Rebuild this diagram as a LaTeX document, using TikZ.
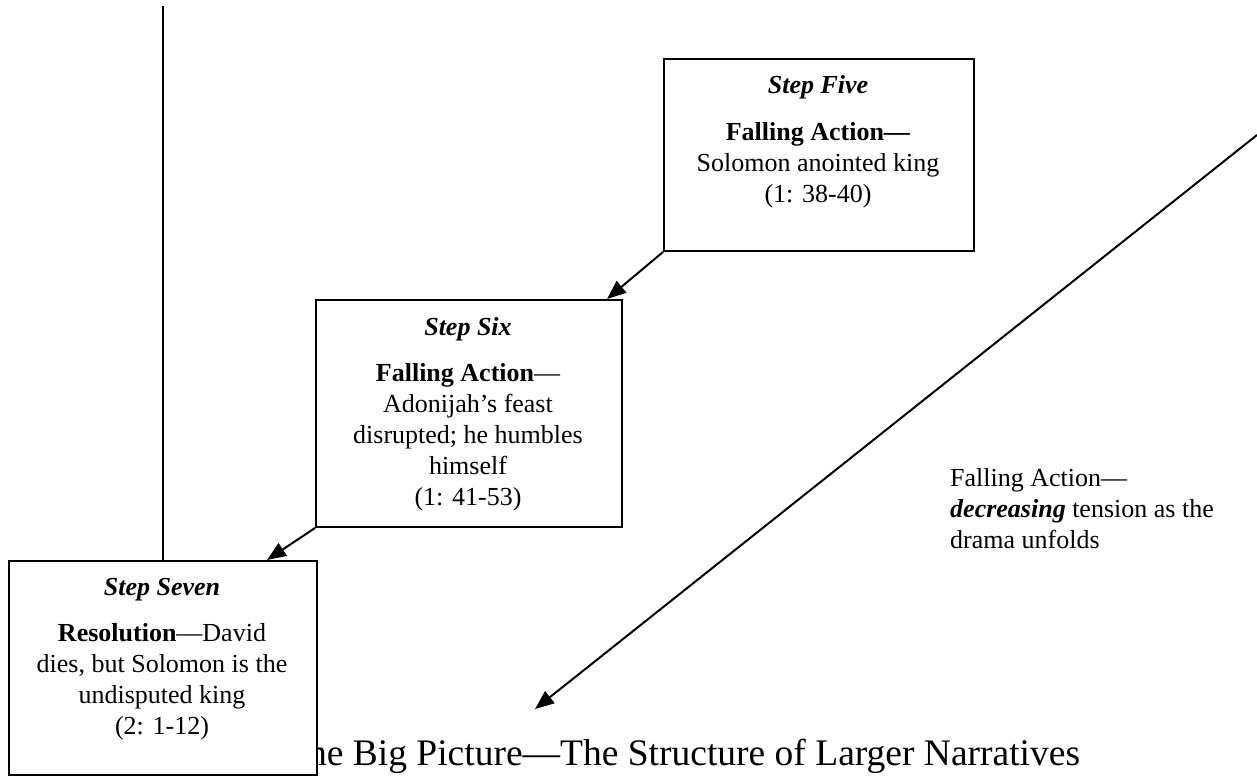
\documentclass[tikz,border=0pt]{standalone}
\usepackage{fontspec}
\setmainfont{Liberation Serif}
\usetikzlibrary{arrows.meta}
\begin{document}
\begin{tikzpicture}[x=1pt,y=-1pt,
  stepbox/.style={draw=black,line width=2pt,fill=white,inner sep=0pt,anchor=north west},
  boxtext/.style={align=center,inner sep=0pt,anchor=north,font=\fontsize{26}{31}\selectfont},
  plaintext/.style={align=left,inner sep=0pt,anchor=north west,font=\fontsize{26}{31}\selectfont},
  arr/.style={line width=2pt,-{Triangle[length=19pt,width=15pt]}},
  plainline/.style={line width=2pt}]
\useasboundingbox (0,0) rectangle (1257,776);
% title (partly hidden behind Step Seven)
\node[inner sep=0pt,anchor=base west,font=\fontsize{37.5}{45}\selectfont] (title) at (285,765) {The Big Picture—The Structure of Larger Narratives};
% boxes
\node[stepbox,minimum width=310pt,minimum height=192pt] (s5) at (663,58) {};
\node[stepbox,minimum width=306pt,minimum height=227pt] (s6) at (315,299) {};
\node[stepbox,minimum width=308pt,minimum height=214pt] (s7) at (8,560) {};
% texts
\node[boxtext] (s5t) at (818,71.3) {\strut\textbf{\textit{Step Five}}\\[16pt]\strut\textbf{Falling Action—}\\\strut Solomon anointed king\\\strut(1: 38-40)};
\node[boxtext] (s6t) at (468,313.3) {\strut\textbf{\textit{Step Six}}\\[15pt]\strut\textbf{Falling Action}—\\\strut Adonijah’s feast\\\strut disrupted; he humbles\\\strut himself\\\strut(1: 41-53)};
\node[boxtext] (s7t) at (162,573.3) {\strut\textbf{\textit{Step Seven}}\\[15pt]\strut\textbf{Resolution}—David\\\strut dies, but Solomon is the\\\strut undisputed king\\\strut(2: 1-12)};
\node[plaintext] (fa) at (950,464.3) {\strut Falling Action—\\\strut\textbf{\textit{decreasing}} tension as the\\\strut drama unfolds};
% connectors
\coordinate (vtop) at (163,6);
\draw[plainline] (vtop) -- (vtop |- s7.north);
\draw[arr] (s5.south west) -- ([xshift=292pt]s6.north west);
\draw[arr] (s6.south west) -- ([xshift=259pt]s7.north west);
\coordinate (la1) at (1257,135);
\coordinate (la2) at (535,709);
\draw[arr] (la1) -- (la2);
\end{tikzpicture}
\end{document}
